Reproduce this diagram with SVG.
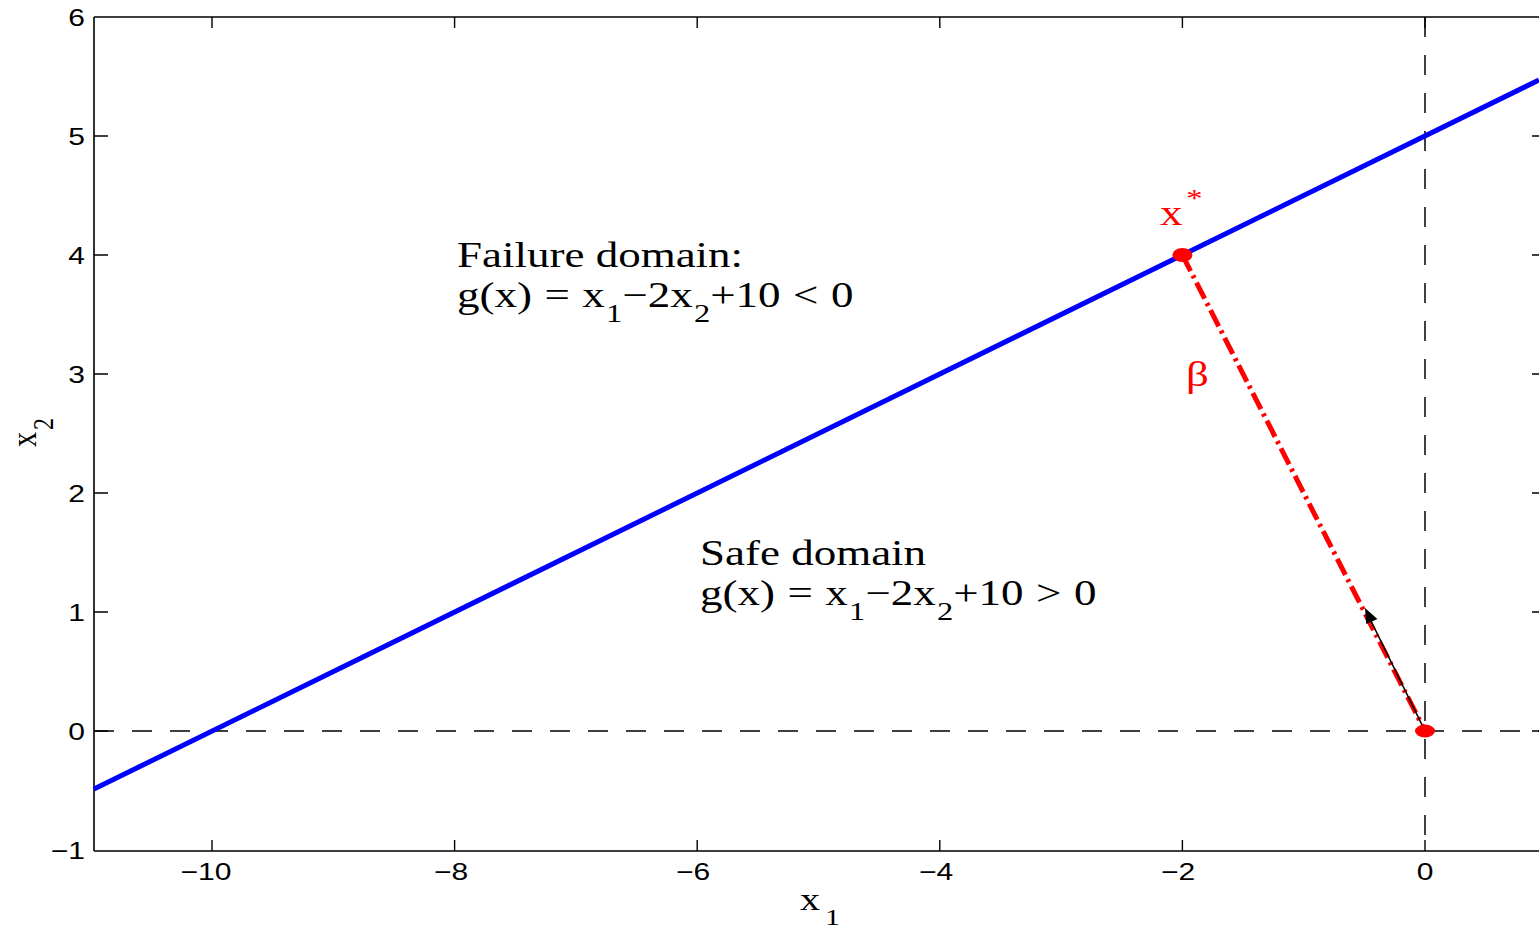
<svg xmlns="http://www.w3.org/2000/svg" width="1539" height="929" viewBox="0 0 1539 929">
<style>
.ax{stroke:#000;stroke-width:1.6;fill:none}
.tk{stroke:#000;stroke-width:1.4}
.dsh{stroke:#000;stroke-width:1.5;stroke-dasharray:20 18;fill:none}
.tl{font-family:"Liberation Sans",Arial,sans-serif;font-size:24px;fill:#000}
.sf{font-family:"Liberation Serif","Times New Roman",serif;fill:#000}
.red{fill:#ff0000}
</style>
<rect width="1539" height="929" fill="#fff"/>
<g id="axes">
<path class="ax" d="M94,17 H1539 M94,17 V851 M94,851 H1539"/>
<path class="tk" d="M94,136 H108 M94,255 H108 M94,374 H108 M94,493 H108 M94,612 H108 M94,731 H108
M1546,136 H1532 M1546,255 H1532 M1546,374 H1532 M1546,493 H1532 M1546,612 H1532 M1546,731 H1532
M212,851 V840 M454.6,851 V840 M697.2,851 V840 M939.8,851 V840 M1182.4,851 V840 M1425,851 V840
M212,17 V28 M454.6,17 V28 M697.2,17 V28 M939.8,17 V28 M1182.4,17 V28 M1425,17 V28"/>
<g class="tl" text-anchor="end">
<g transform="translate(85,26) scale(1.25,1)"><text x="0" y="0">6</text></g>
<g transform="translate(85,145) scale(1.25,1)"><text x="0" y="0">5</text></g>
<g transform="translate(85,264) scale(1.25,1)"><text x="0" y="0">4</text></g>
<g transform="translate(85,383) scale(1.25,1)"><text x="0" y="0">3</text></g>
<g transform="translate(85,502) scale(1.25,1)"><text x="0" y="0">2</text></g>
<g transform="translate(85,621) scale(1.25,1)"><text x="0" y="0">1</text></g>
<g transform="translate(85,740) scale(1.25,1)"><text x="0" y="0">0</text></g>
<g transform="translate(85,859) scale(1.25,1)"><text x="0" y="0">−1</text></g>
</g>
<g class="tl" text-anchor="middle">
<g transform="translate(206,880) scale(1.25,1)"><text x="0" y="0">−10</text></g>
<g transform="translate(451,880) scale(1.25,1)"><text x="0" y="0">−8</text></g>
<g transform="translate(693,880) scale(1.25,1)"><text x="0" y="0">−6</text></g>
<g transform="translate(936,880) scale(1.25,1)"><text x="0" y="0">−4</text></g>
<g transform="translate(1178,880) scale(1.25,1)"><text x="0" y="0">−2</text></g>
<g transform="translate(1425,880) scale(1.25,1)"><text x="0" y="0">0</text></g>
</g>
<g transform="translate(800,910) scale(1.25,1)"><text class="sf" font-size="32" x="0" y="0">x<tspan font-size="24" dx="4" dy="15">1</tspan></text></g>
<g transform="translate(36,447) scale(1.2,1) rotate(-90)"><text class="sf" font-size="30" x="0" y="0">x<tspan font-size="24" dx="2" dy="14">2</tspan></text></g>
</g>
<g id="connectors">
<path class="dsh" d="M94,731 H1539"/>
<path class="dsh" d="M1425,17 V851"/>
<path d="M94,789 L1539,80" stroke="#0000ff" stroke-width="5" fill="none"/>
<path d="M1182.4,255 L1425,731" stroke="#ff0000" stroke-width="5" stroke-dasharray="18 5 3 5" fill="none"/>
<path d="M1425,731 L1370,619" stroke="#000" stroke-width="1.6" fill="none"/>
<polygon points="1365,608 1366.2,624.1 1377.4,618.9" fill="#000"/>
</g>
<g id="point-xstar">
<ellipse cx="1182.4" cy="255" rx="10" ry="7" fill="#ff0000"/>
<g transform="translate(1160,225) scale(1.25,1)"><text class="sf red" font-size="36" x="0" y="0">x<tspan font-size="26" dx="3" dy="-18">*</tspan></text></g>
</g>
<g id="point-origin">
<ellipse cx="1425" cy="731" rx="10" ry="6.5" fill="#ff0000"/>
</g>
<g id="label-beta">
<g transform="translate(1186,386) scale(1.25,1)"><text class="sf red" font-size="36" x="0" y="0">β</text></g>
</g>
<g id="failure-domain">
<g transform="translate(457,267) scale(1.25,1)"><text class="sf" font-size="36" x="0" y="0">Failure domain:</text></g>
<g transform="translate(457,307) scale(1.25,1)"><text class="sf" font-size="36" word-spacing="1" x="0" y="0">g(x) = x<tspan font-size="26" dx="1" dy="15">1</tspan><tspan dy="-15">−2x</tspan><tspan font-size="26" dx="1" dy="15">2</tspan><tspan dy="-15">+10 &lt; 0</tspan></text></g>
</g>
<g id="safe-domain">
<g transform="translate(700,565) scale(1.25,1)"><text class="sf" font-size="36" x="0" y="0">Safe domain</text></g>
<g transform="translate(700,605) scale(1.25,1)"><text class="sf" font-size="36" word-spacing="1" x="0" y="0">g(x) = x<tspan font-size="26" dx="1" dy="15">1</tspan><tspan dy="-15">−2x</tspan><tspan font-size="26" dx="1" dy="15">2</tspan><tspan dy="-15">+10 &gt; 0</tspan></text></g>
</g>
</svg>
